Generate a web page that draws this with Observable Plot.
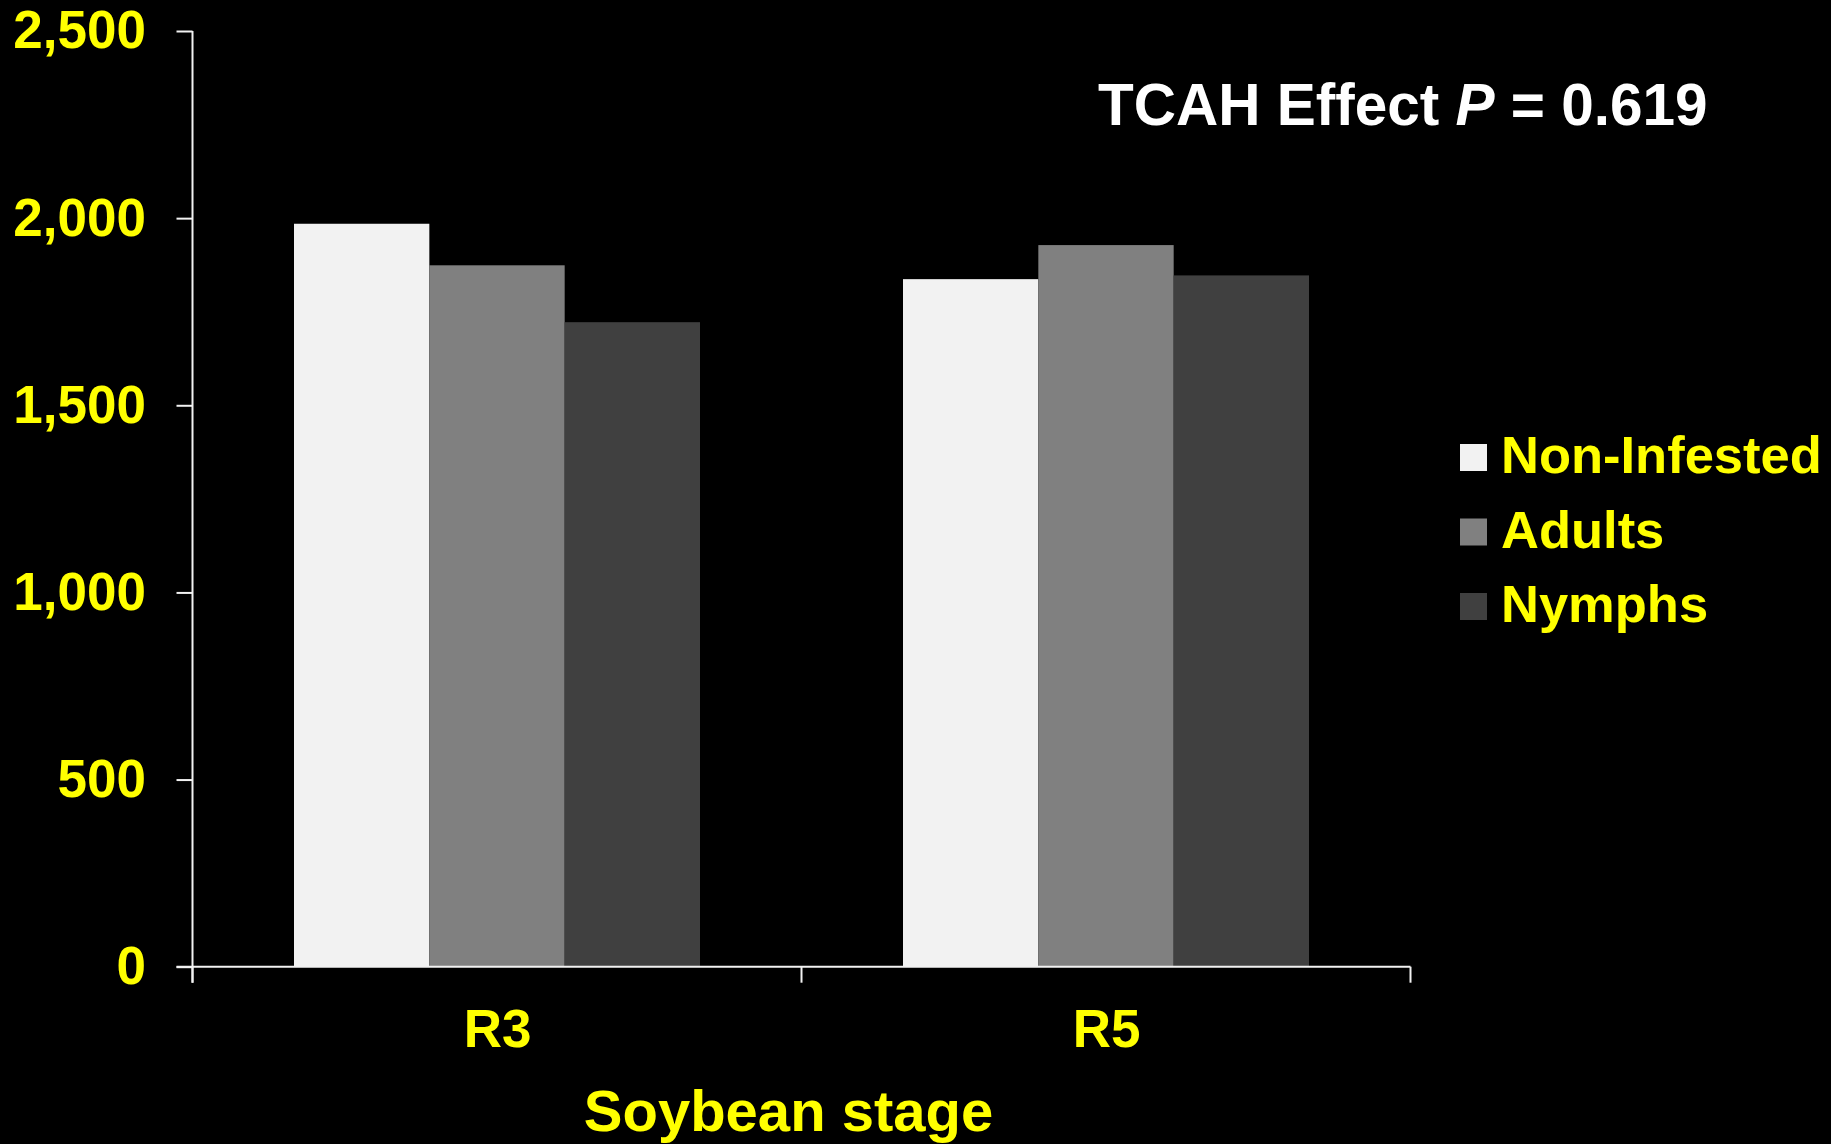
<!DOCTYPE html>
<html><head><meta charset="utf-8">
<script src="https://cdn.jsdelivr.net/npm/d3@7"></script>
<script src="https://cdn.jsdelivr.net/npm/@observablehq/plot@0.6"></script>
<style>
html,body{margin:0;padding:0;background:#000;}
#chart{position:relative;width:1831px;height:1144px;}
#chart svg g[aria-label="y-axis tick"], #chart svg g[aria-label="y-axis tick"] path{stroke:#f2f2f2;stroke-width:2;}
#chart svg g[aria-label="y-axis tick label"]{fill:#ffff00;}
</style></head><body><div id="chart"></div>
<script>
// ---- data ----
const stages = ["R3", "R5"];
const series = ["Non-Infested", "Adults", "Nymphs"];
const nonInfested = [1985, 1837];
const adults = [1874, 1928];
const nymphs = [1722, 1847];
const yTicks = [0, 500, 1000, 1500, 2000, 2500];
const colors = ["#F2F2F2", "#808080", "#404040"];
const annotationText = "TCAH Effect ";
const annotationP = "P";
const annotationValue = " = 0.619";
const xLabel = "Soybean stage";

const valuesBySeries = [nonInfested, adults, nymphs];
const data = stages.flatMap((s, i) => series.map((k, j) => ({stage: s, series: k, value: valuesBySeries[j][i]})));

const W = 1831, H = 1144;
const FONT = "'Liberation Sans', Arial, Helvetica, sans-serif";
const plot = Plot.plot({
  width: W, height: H,
  marginLeft: 192.5, marginRight: 420.5, marginTop: 31, marginBottom: 177.3,
  style: {background: "#000", color: "#ffff00", fontFamily: FONT, fontSize: "53px", fontWeight: "bold"},
  fx: {domain: stages, padding: 0, round: false},
  x: {domain: series, paddingInner: 0, paddingOuter: 0.75, round: false, axis: null},
  y: {domain: [0, 2500]},
  color: {domain: series, range: colors},
  marks: [
    Plot.barY(data, {fx: "stage", x: "series", y: "value", fill: "series"}),
    Plot.axisY({ticks: yTicks, tickSize: 16, tickPadding: 31, tickFormat: d3.format(","), label: null}),
    Plot.axisFx({anchor: "bottom", tickSize: 0, tickPadding: 42, label: null, fontSize: 53})
  ]
});
document.getElementById("chart").appendChild(plot);

// ---- axis lines (Excel style, ticks at category boundaries) ----
const svg = d3.select(plot);
const ys = plot.scale("y"), fxs = plot.scale("fx");
const y0 = ys.apply(0), yTop = ys.apply(2500);
const [xL, xR] = fxs.range;
const step = (xR - xL) / stages.length;
const g = svg.append("g").attr("stroke", "#f2f2f2").attr("stroke-width", 2).attr("fill", "none");
g.append("line").attr("x1", xL).attr("x2", xL).attr("y1", yTop).attr("y2", y0 + 16);
g.append("line").attr("x1", xL - 16).attr("x2", xR).attr("y1", y0).attr("y2", y0);
d3.range(stages.length + 1).forEach(i => {
  const x = xL + i * step;
  g.append("line").attr("x1", x).attr("x2", x).attr("y1", y0).attr("y2", y0 + 16);
});

// ---- x axis title ----
svg.append("text").attr("x", 788.5).attr("y", 1131).attr("text-anchor", "middle")
  .attr("fill", "#ffff00").attr("font-size", 58).attr("font-weight", "bold").attr("font-family", FONT)
  .text(xLabel);

// ---- annotation ----
const ann = svg.append("text").attr("x", 1098).attr("y", 125).attr("text-anchor", "start")
  .attr("fill", "#ffffff").attr("font-size", 58.5).attr("font-weight", "bold").attr("font-family", FONT);
ann.append("tspan").text(annotationText);
ann.append("tspan").attr("font-style", "italic").text(annotationP);
ann.append("tspan").text(annotationValue);

// ---- legend ----
const lg = svg.append("g").attr("text-anchor", "start");
series.forEach((s, j) => {
  const yy = 444 + j * 74.5;
  lg.append("rect").attr("x", 1460).attr("y", yy).attr("width", 27).attr("height", 27).attr("fill", colors[j]);
  lg.append("text").attr("x", 1501).attr("y", yy + 29.3).attr("text-anchor", "start").attr("fill", "#ffff00")
    .attr("font-size", 52.5).attr("font-weight", "bold").attr("font-family", FONT).text(s);
});
</script>
</body></html>
